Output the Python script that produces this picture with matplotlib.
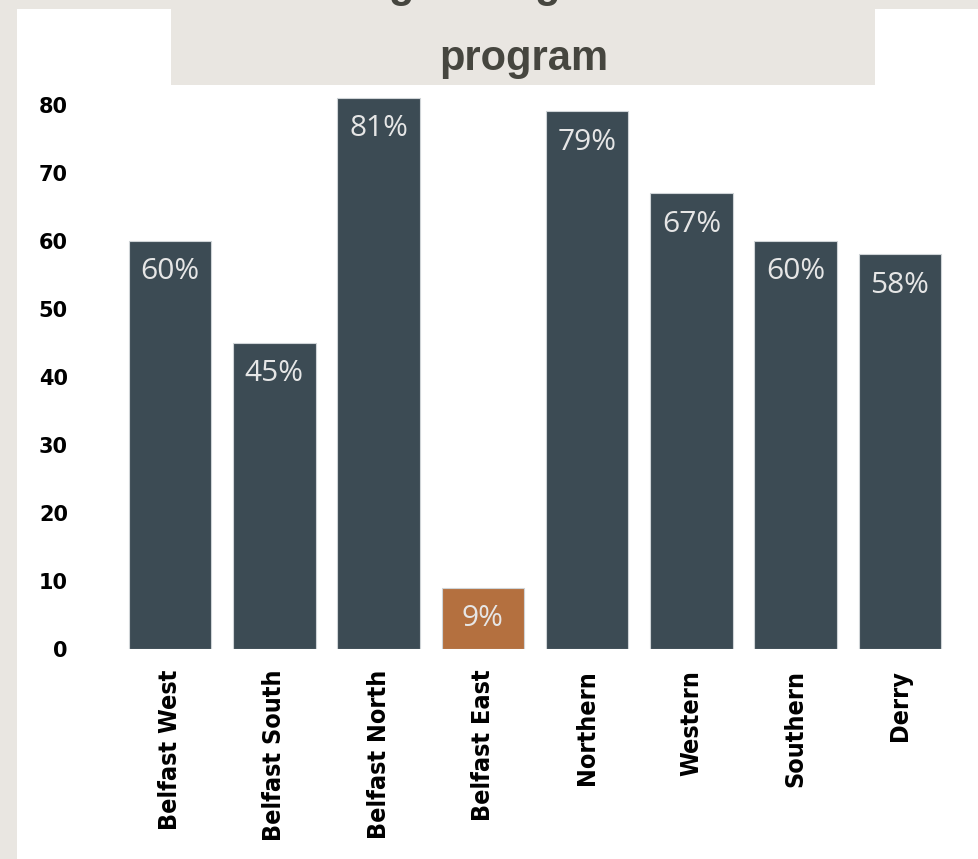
import matplotlib
matplotlib.use("Agg")
import matplotlib.pyplot as plt
from matplotlib.patches import Rectangle
from matplotlib import font_manager

regions = ["Belfast West", "Belfast South", "Belfast North", "Belfast East",
           "Northern", "Western", "Southern", "Derry"]
percent = [60, 45, 81, 9, 79, 67, 60, 58]
highlight = "Belfast East"

bar_col = "#3c4b54"
hi_col = "#b4703f"
bg_col = "#e9e6e1"

names = {f.name for f in font_manager.fontManager.ttflist}
label_font = "Open Sans" if "Open Sans" in names else "DejaVu Sans"

W, H = 979, 859
fig = plt.figure(figsize=(W / 100, H / 100), dpi=100)
fig.patch.set_facecolor(bg_col)

# white panel and grey title box, behind the axes
fig.patches.append(Rectangle((17 / W, 0), 1, 1 - 9 / H, transform=fig.transFigure,
                             facecolor="white", edgecolor="none", zorder=-2))
fig.patches.append(Rectangle((171 / W, 1 - 85 / H), (875 - 171) / W, 85 / H,
                             transform=fig.transFigure, facecolor=bg_col,
                             edgecolor="none", zorder=-1))

fig.text(524 / W, 1 - 70 / H, "program", ha="center", va="baseline",
         fontsize=30, fontweight="bold", color="#46463f", family="Liberation Sans")
# first title line sits mostly above the picture, only descenders show
fig.text(500 / W, 1 + 3 / H, "Percentage using the mentor", ha="center", va="baseline",
         fontsize=30, fontweight="bold", color="#46463f", family="Liberation Sans")

ax = fig.add_axes([118 / W, 1 - 649 / H, (952 - 118) / W, (649 - 91) / H])
ax.set_facecolor("none")

colors = [hi_col if r == highlight else bar_col for r in regions]
x = range(len(regions))
bars = ax.bar(x, percent, width=0.79, color=colors, edgecolor="#cfd4d7", linewidth=0.8)

for b, v in zip(bars, percent):
    ax.annotate(f"{v}%", (b.get_x() + b.get_width() / 2, v), xytext=(0, -12),
                textcoords="offset points", ha="center", va="top",
                fontsize=21.5, color="#e6e6e6", family=label_font)

ax.set_xlim(-0.5, len(regions) - 0.5)
ax.set_ylim(0, 82)
ax.set_yticks(range(0, 81, 10))
ax.set_xticks(list(x))
ax.set_xticklabels(regions, rotation=90, fontsize=18, fontweight="bold",
                   family="DejaVu Sans", fontstretch="condensed")
for t in ax.get_yticklabels():
    t.set_fontsize(15)
    t.set_fontweight("bold")
ax.tick_params(axis="y", length=0, pad=36)
ax.tick_params(axis="x", length=0, pad=15)
for s in ax.spines.values():
    s.set_visible(False)

fig.savefig("out.png", dpi=100, facecolor=fig.get_facecolor())
